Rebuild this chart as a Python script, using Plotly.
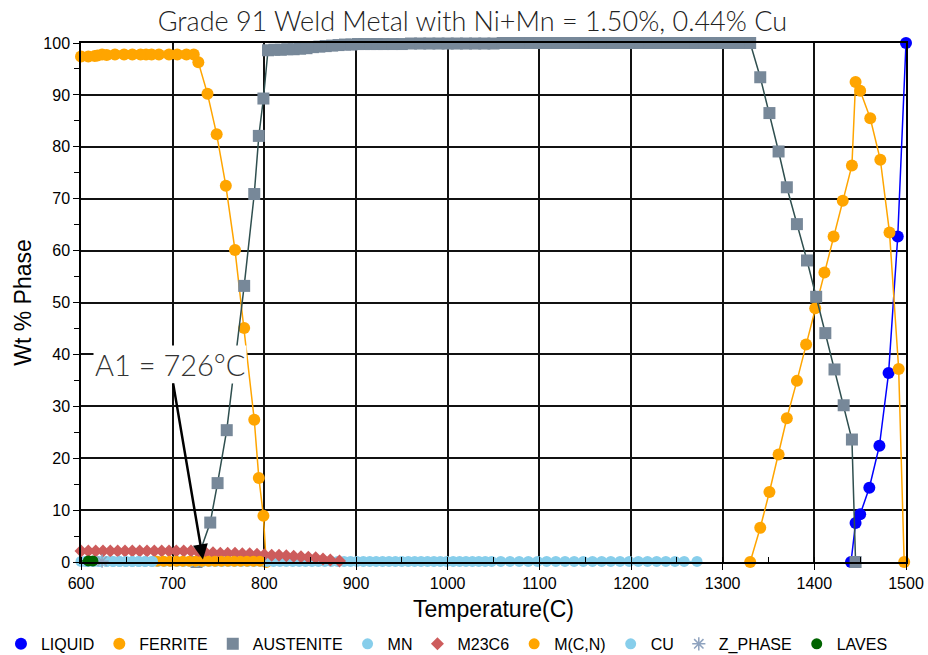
import plotly.graph_objects as go

# ---------------- data ----------------
liquid_T = [1440, 1445, 1450, 1460, 1471, 1481, 1491, 1500]
liquid_W = [0, 7.5, 9.2, 14.3, 22.4, 36.4, 62.7, 100]

ferrite_T = [600, 608, 615, 618, 623, 628, 637, 647, 656, 665, 671, 677, 685, 696, 705, 715, 723,
             728, 738, 748, 758, 768, 778, 789, 794, 799, 802, None,
             1330, 1341, 1351, 1361, 1370, 1381, 1391, 1401, 1411, 1421, 1431, 1441, 1445, 1450,
             1461, 1472, 1482, 1492, 1498]
ferrite_W = [97.4, 97.4, 97.5, 97.6, 97.8, 97.7, 97.8, 97.8, 97.8, 97.8, 97.8, 97.8, 97.8, 97.8, 97.8, 97.8, 97.8,
             96.3, 90.2, 82.4, 72.5, 60.1, 45.1, 27.4, 16.2, 8.9, 0, None,
             0, 6.6, 13.5, 20.7, 27.7, 34.9, 41.9, 48.9, 55.8, 62.7, 69.6, 76.4, 92.5, 90.8,
             85.5, 77.5, 63.5, 37.2, 0]

austenite_T = [726, 741, 749, 759, 778, 789, 794, 799, 804, 811, 818, 825, 832, 839, 846, 853, 860,
               867, 874, 881, 888, 895, 902, 909, 916, 923, 930, 940, 950, 960, 970, 980, 990, 1000,
               1010, 1020, 1030, 1040, 1050, 1060, 1070, 1080, 1090, 1100, 1110, 1120, 1130, 1140,
               1150, 1160, 1170, 1180, 1190, 1200, 1210, 1220, 1230, 1240, 1250, 1260, 1270, 1280,
               1290, 1300, 1310, 1320, 1330,
               1341, 1351, 1361, 1370, 1381, 1392, 1402, 1412, 1422, 1432, 1441, 1445]
austenite_W = [0, 7.6, 15.2, 25.4, 53.2, 70.9, 82.1, 89.3, 98.6, 98.7, 98.7, 98.8, 98.8, 98.9, 99.0, 99.2, 99.3,
               99.4, 99.5, 99.6, 99.7, 99.7, 99.8, 99.8, 99.8, 99.8, 99.8, 99.8, 99.8, 99.9, 99.9, 99.9, 99.9, 99.9,
               99.9, 99.9, 99.9, 99.9, 99.9, 100, 100, 100, 100, 100, 100, 100, 100, 100,
               100, 100, 100, 100, 100, 100, 100, 100, 100, 100, 100, 100, 100, 100,
               100, 100, 100, 100, 100,
               93.4, 86.5, 79.1, 72.2, 65.1, 58.1, 51.1, 44.1, 37.1, 30.2, 23.6, 0]

mn_T = [600, 607, 614, 621, 628, 635, 642, 649, 656, 663, 670, 677, 684, 691, 698, 705, 712, 719,
        726, 733, 740, 747, 754, 761, 768, 775, 782, 789, 796, 803, 810, 817, 824, 831, 838, 845,
        852, 859, 866, 873, 880, 887, 894, 901, 908, 915, 922, 929, 936, 943, 950, 957, 964, 971,
        978, 985, 992, 999, 1006, 1013, 1020, 1027, 1034, 1041, 1048, 1058, 1068, 1078, 1088, 1098,
        1108, 1118, 1128, 1138, 1148, 1158, 1168, 1178, 1188, 1198, 1208, 1218, 1228, 1238, 1248,
        1258, 1272]
mn_W = [0.1] * len(mn_T)

m23c6_T = [600, 608, 616, 624, 632, 640, 648, 656, 664, 672, 680, 688, 696, 704, 712, 720,
           728, 736, 744, 752, 760, 768, 776, 784, 792, 800, 808, 816, 824, 832, 840, 848, 856,
           864, 872, 882]
m23c6_W = [2.1, 2.1, 2.1, 2.1, 2.1, 2.1, 2.1, 2.1, 2.1, 2.1, 2.1, 2.1, 2.1, 2.1, 2.1, 2.1,
           1.9, 1.8, 1.8, 1.7, 1.7, 1.7, 1.6, 1.6, 1.5, 1.4, 1.3, 1.3, 1.2, 1.1, 1.0, 0.9, 0.8,
           0.6, 0.4, 0.2]

mcn_T = [683, 690, 697, 704, 711, 718, 725, 732, 739, 746, 753, 760, 767, 774, 781, 788, 795]
mcn_W = [0.15] * len(mcn_T)

cu_T = [605, 612, 619, 628, 635, 642, 649, 656, 663, 670, 678]
cu_W = [0.1] * len(cu_T)

zphase_T = [623]
zphase_W = [0.15]

laves_T = [598, 608, 613]
laves_W = [0.2, 0.2, 0.2]

title_text = "Grade 91 Weld Metal with Ni+Mn = 1.50%, 0.44% Cu"

# name, x, y, line colour, marker colour, symbol, marker size, draw line
phases = [
    ("LIQUID", liquid_T, liquid_W, "#0000FF", "#0000FF", "circle", 12, True),
    ("FERRITE", ferrite_T, ferrite_W, "#FFA500", "#FFA500", "circle", 12, True),
    ("AUSTENITE", austenite_T, austenite_W, "#2F4F4F", "#778899", "square", 12, True),
    ("MN", mn_T, mn_W, "#87CEEB", "#87CEEB", "circle", 11, True),
    ("M23C6", m23c6_T, m23c6_W, "#CD5C5C", "#CD5C5C", "diamond", 10, True),
    ("M(C,N)", mcn_T, mcn_W, "#FFA500", "#FFA500", "circle", 11, True),
    ("CU", cu_T, cu_W, "#87CEEB", "#87CEEB", "circle", 11, True),
    ("Z_PHASE", zphase_T, zphase_W, "#8FA3BF", "#8FA3BF", "asterisk-open", 11, False),
    ("LAVES", laves_T, laves_W, "#006400", "#006400", "circle", 11, True),
]

fig = go.Figure()
for name, xs, ys, lc, mc, sym, ms, has_line in phases:
    if has_line:
        fig.add_trace(go.Scatter(x=xs, y=ys, mode="lines", name=name, legendgroup=name,
                                 showlegend=False, line=dict(color=lc, width=1.5),
                                 hoverinfo="skip", cliponaxis=False))
    mk = dict(symbol=sym, size=ms, color=mc)
    if sym == "asterisk-open":
        mk["line"] = dict(color=mc, width=1.5)
    fig.add_trace(go.Scatter(x=xs, y=ys, mode="markers", name=name, legendgroup=name,
                             marker=mk, cliponaxis=False))

axis_font = dict(family="Liberation Sans, Arial, sans-serif", size=16, color="black")
title_font_axis = dict(family="Liberation Sans, Arial, sans-serif", size=23, color="black")

fig.update_layout(
    width=928, height=655,
    margin=dict(l=81, r=22, t=43, b=93, autoexpand=False),
    paper_bgcolor="white", plot_bgcolor="white",
    title=dict(text=title_text, x=0.509, xanchor="center", y=0.967, yanchor="middle",
               font=dict(family="Lato, Open Sans, sans-serif", size=27, color="#222", weight=300)),
    showlegend=True,
    legend=dict(orientation="h", x=-0.097, xanchor="left", y=-0.125, yanchor="top",
                font=dict(family="Liberation Sans, Arial, sans-serif", size=16, color="black"),
                itemsizing="trace", tracegroupgap=0, itemwidth=30),
    xaxis=dict(range=[600, 1500], tickmode="linear", tick0=600, dtick=100, automargin=False,
               showgrid=True, gridcolor="#111", gridwidth=1.5,
               showline=True, linecolor="black", linewidth=1.5, mirror=True,
               ticks="outside", ticklen=6, tickcolor="black", tickfont=axis_font,
               minor=dict(dtick=50, ticks="inside", ticklen=5, tickcolor="black", showgrid=False),
               zeroline=False,
               title=dict(text="Temperature(C)", standoff=10, font=title_font_axis)),
    yaxis=dict(range=[0, 100], tickmode="linear", tick0=0, dtick=10, automargin=False,
               showgrid=True, gridcolor="#111", gridwidth=1.5,
               showline=True, linecolor="black", linewidth=1.5, mirror=True,
               ticks="outside", ticklen=6, tickcolor="black", tickfont=axis_font,
               minor=dict(dtick=5, ticks="outside", ticklen=5, tickcolor="black", showgrid=False),
               zeroline=False,
               title=dict(text="Wt % Phase", standoff=5, font=title_font_axis)),
)

fig.add_annotation(x=733, y=0.5, xref="x", yref="y", text="A1 = 726°C",
                   showarrow=True, arrowhead=2, arrowsize=1.2, arrowwidth=2.5, arrowcolor="black",
                   ax=-33, ay=-195, bgcolor="white",
                   font=dict(family="Lato, Open Sans, sans-serif", size=29, color="#333", weight=300))

fig.write_html("out.html")
